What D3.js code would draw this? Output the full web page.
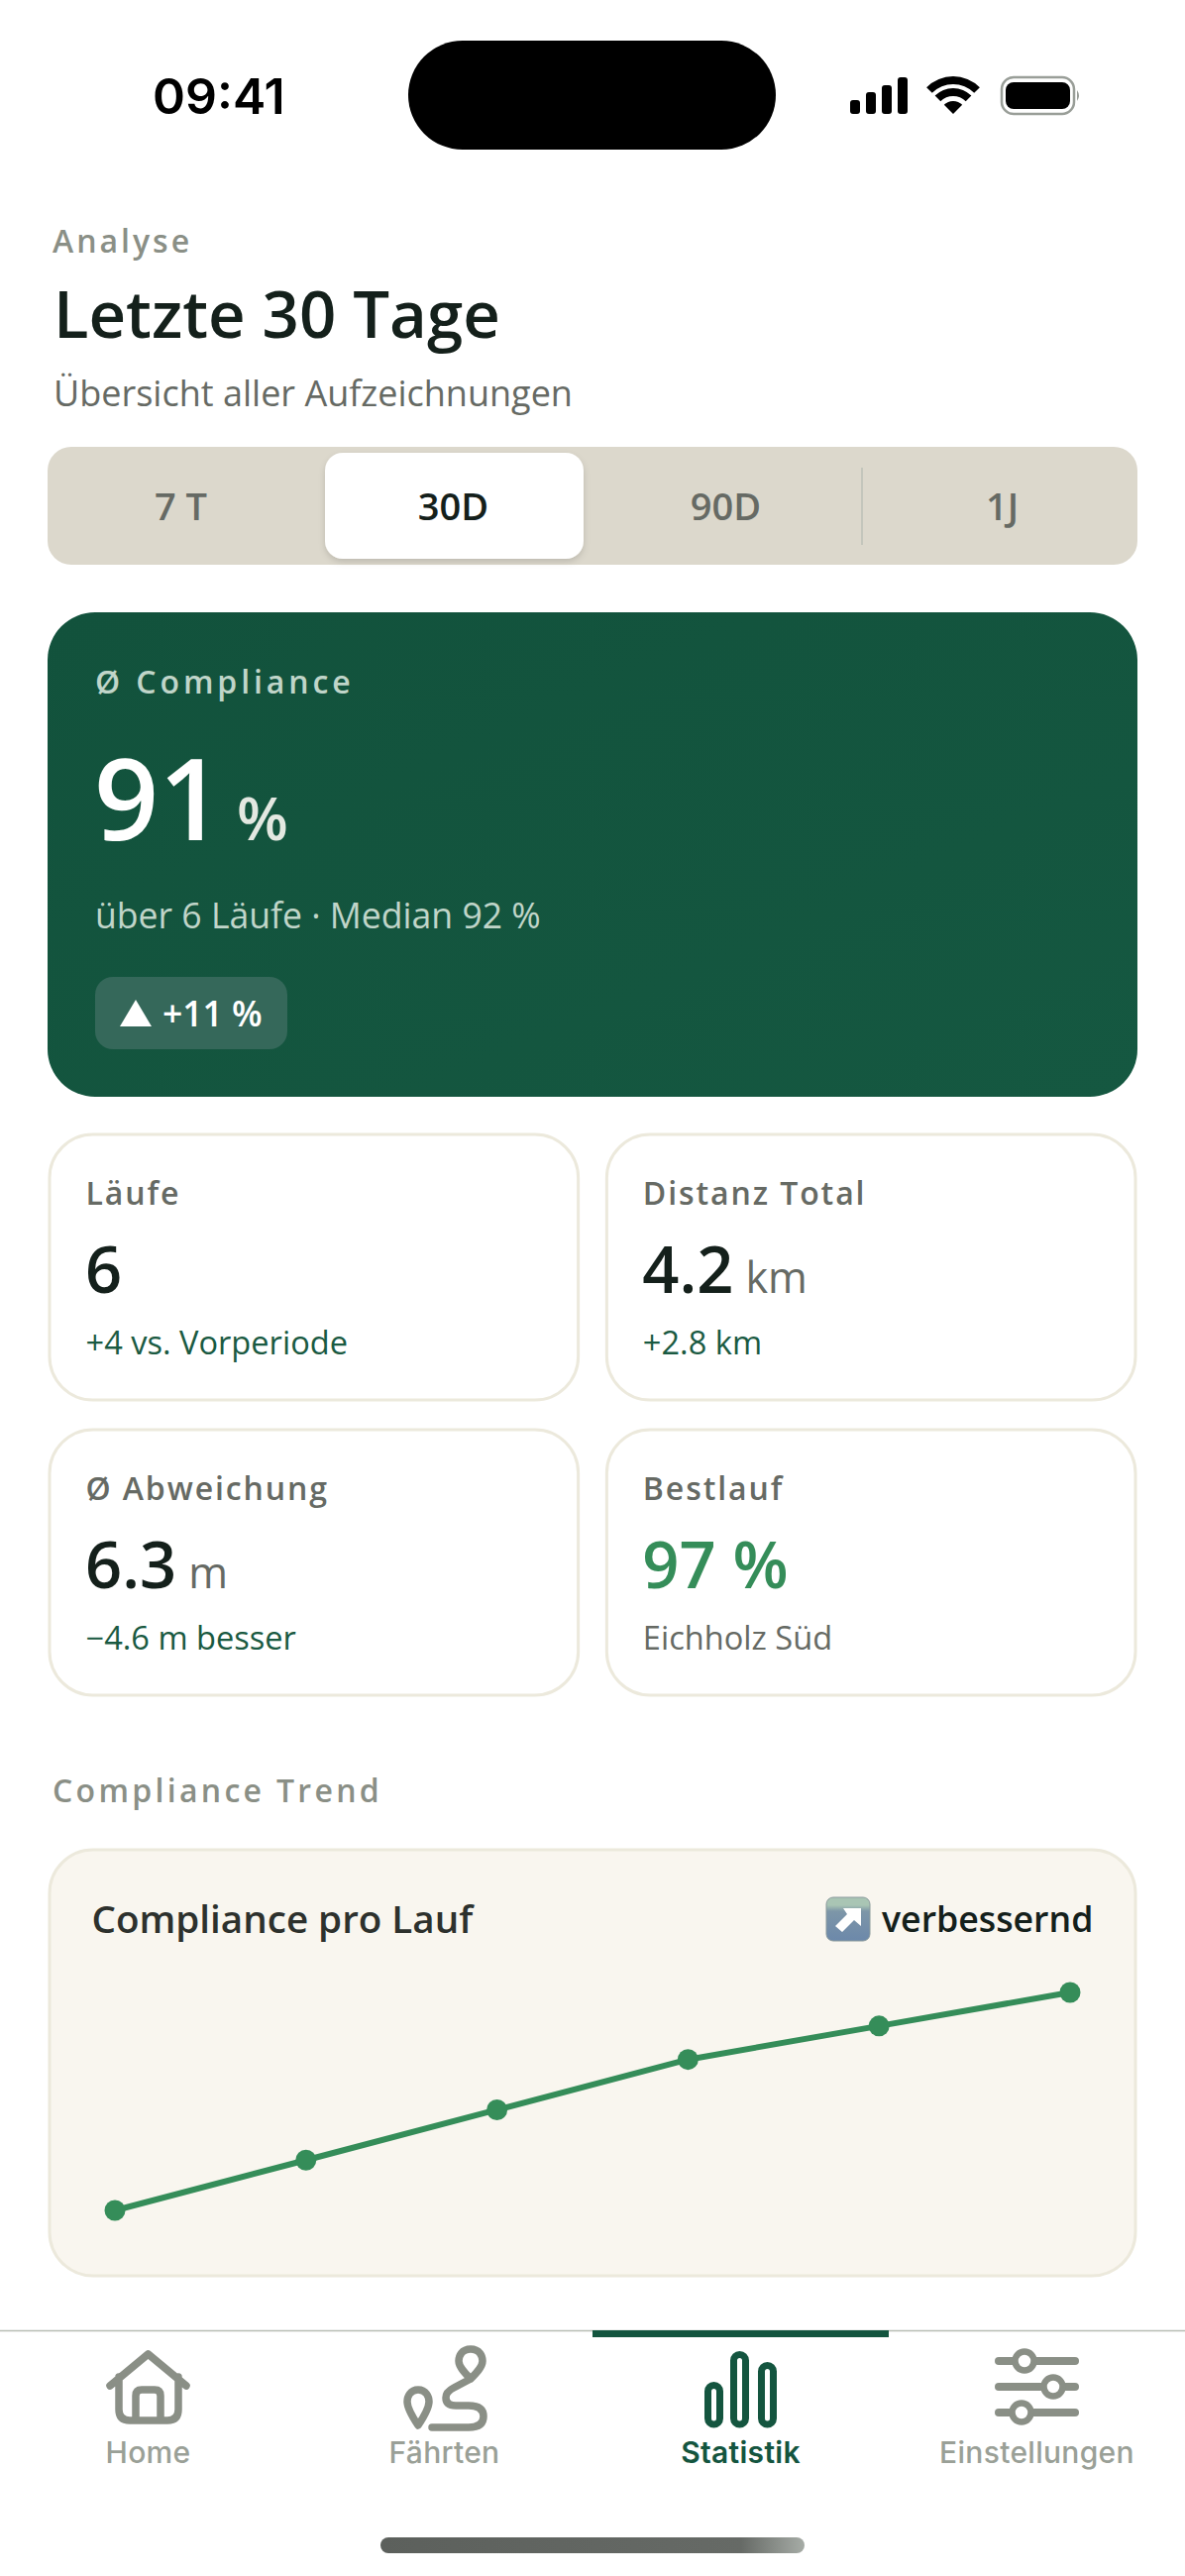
<!DOCTYPE html>
<html lang="de">
<head>
<meta charset="utf-8">
<title>Letzte 30 Tage</title>
<script src="https://cdn.jsdelivr.net/npm/d3@7"></script>
<style>
  body { margin: 0; background: #fff; }
  svg { display: block; font-family: "Open Sans", sans-serif; }
  .nav-label { font-family: Inter, sans-serif; }
</style>
</head>
<body>
<svg id="screen" width="1196" height="2600"></svg>
<script>
const periods = ['7 T', '30D', '90D', '1J'];
const activePeriod = '30D';

const kpiLabels = ['Läufe', 'Distanz Total', 'Ø Abweichung', 'Bestlauf'];
const kpiValues = ['6', '4.2', '6.3', '97 %'];
const kpiUnits = ['', 'km', 'm', ''];
const kpiNotes = ['+4 vs. Vorperiode', '+2.8 km', '−4.6 m besser', 'Eichholz Süd'];

const runs = ['Lauf 1', 'Lauf 2', 'Lauf 3', 'Lauf 4', 'Lauf 5', 'Lauf 6'];
const compliance = [84, 87, 90, 93, 95, 97];

const navLabels = ['Home', 'Fährten', 'Statistik', 'Einstellungen'];
const activeNav = 'Statistik';

const GREEN_DARK = '#14553f';
const GREEN = '#358d59';
const INK = '#14201b';
const GREY = '#666a64';
const MUTED = '#8a8f86';
const BORDER = '#ece9dc';

const svg = d3.select('#screen');
const defs = svg.append('defs');

const addGradient = (id, x2, y2, stops) => {
  const g = defs.append('linearGradient').attr('id', id)
    .attr('x1', 0).attr('y1', 0).attr('x2', x2).attr('y2', y2);
  stops.forEach(([offset, color]) => g.append('stop').attr('offset', offset).attr('stop-color', color));
};
addGradient('heroFill', 1, 1, [[0, '#12523c'], [1, '#155841']]);
addGradient('emojiFill', 0, 1, [[0, '#a9c5b4'], [0.18, '#a9c5b4'], [0.32, '#7d96a8'], [1, '#6c88aa']]);
addGradient('homeBar', 1, 0, [[0, '#5c605c'], [0.85, '#666a66'], [1, '#a6aca6']]);

const shadow = defs.append('filter').attr('id', 'tabShadow')
  .attr('x', '-10%').attr('y', '-10%').attr('width', '120%').attr('height', '125%');
shadow.append('feDropShadow').attr('dx', 0).attr('dy', 3).attr('stdDeviation', 3)
  .attr('flood-color', '#000').attr('flood-opacity', 0.14);

const label = (parent, x, y, text, size, weight, fill, spacing = 0) => parent.append('text')
  .attr('x', x).attr('y', y)
  .attr('font-size', size).attr('font-weight', weight).attr('fill', fill)
  .attr('letter-spacing', spacing)
  .text(text);

// status bar
svg.append('rect').attr('x', 412).attr('y', 41).attr('width', 371).attr('height', 110)
  .attr('rx', 55).attr('fill', '#000');
label(svg, 154, 115, '09:41', 50, 600, '#000').attr('font-family', 'Inter, sans-serif');

const signalBars = [14, 22, 29, 37];
svg.append('g').selectAll('rect').data(signalBars).join('rect')
  .attr('x', (d, i) => 858 + i * 16).attr('y', d => 115 - d)
  .attr('width', 10).attr('height', d => d).attr('rx', 3).attr('fill', '#000');

const wifi = svg.append('g').attr('transform', 'translate(962,115)');
[[0, 13], [18, 26], [30, 38]].forEach(([inner, outer]) => {
  wifi.append('path').attr('fill', '#000').attr('d', d3.arc()({
    innerRadius: inner, outerRadius: outer, startAngle: -Math.PI / 4, endAngle: Math.PI / 4,
  }));
});

svg.append('rect').attr('x', 1011).attr('y', 78).attr('width', 73).attr('height', 37)
  .attr('rx', 12).attr('fill', 'none').attr('stroke', '#999e98').attr('stroke-width', 2.5);
svg.append('rect').attr('x', 1015).attr('y', 83).attr('width', 65).attr('height', 27)
  .attr('rx', 8).attr('fill', '#000');
svg.append('path').attr('d', 'M1087 91 Q1091 96.5 1087 102 Z').attr('fill', '#999e98');

// header
label(svg, 53, 255, 'Analyse', 32, 600, MUTED, 3);
label(svg, 54, 341, 'Letzte 30 Tage', 65.3, 600, INK);
label(svg, 54, 410, 'Übersicht aller Aufzeichnungen', 36, 400, GREY);

// period switch
svg.append('rect').attr('x', 48).attr('y', 451).attr('width', 1100).attr('height', 119)
  .attr('rx', 24).attr('fill', '#dcd8cc');
const periodX = d3.scaleBand().domain(periods).range([46, 1146]);
svg.append('rect')
  .attr('x', periodX(activePeriod) + periodX.bandwidth() / 2 - 130.5).attr('y', 457)
  .attr('width', 261).attr('height', 107).attr('rx', 18)
  .attr('fill', '#fff').attr('filter', 'url(#tabShadow)');
svg.append('line').attr('x1', 870).attr('x2', 870).attr('y1', 472).attr('y2', 550)
  .attr('stroke', '#c4c6bc').attr('stroke-width', 2);
svg.append('g').selectAll('text').data(periods).join('text')
  .attr('x', d => periodX(d) + periodX.bandwidth() / 2 + (d === '1J' ? 3 : 0) - (d === '1J' ? 0 : 1))
  .attr('y', 525).attr('text-anchor', 'middle')
  .attr('font-size', 38).attr('font-weight', 600)
  .attr('fill', d => (d === activePeriod ? INK : GREY))
  .text(d => d);

// hero card
svg.append('rect').attr('x', 48).attr('y', 618).attr('width', 1100).attr('height', 489)
  .attr('rx', 48).attr('fill', 'url(#heroFill)');
label(svg, 96, 699.5, 'Ø Compliance', 32, 600, '#c0d5c9', 3.9);
label(svg, 95, 848, '91', 114, 600, '#fff');
label(svg, 239, 848, '%', 60, 600, '#e3e8e1');
label(svg, 96, 937, 'über 6 Läufe · Median 92 %', 35.6, 400, '#c0d5c9');
svg.append('rect').attr('x', 96).attr('y', 986).attr('width', 194).attr('height', 73)
  .attr('rx', 18).attr('fill', '#35685a');
svg.append('path').attr('d', 'M137 1009 L153 1036 L121 1036 Z').attr('fill', '#fff');
label(svg, 164, 1036, '+11 %', 35.5, 600, '#fff');

// kpi cards
const kpiX = d3.scaleBand().domain([0, 1]).range([50, 1146]).paddingInner(0.0511);
const kpiY = d3.scaleBand().domain([0, 1]).range([1145, 1711]).paddingInner(0.1);
kpiLabels.forEach((name, i) => {
  const card = svg.append('g')
    .attr('transform', `translate(${kpiX(i % 2)},${kpiY(Math.floor(i / 2))})`);
  card.append('rect').attr('width', kpiX.bandwidth()).attr('height', kpiY.bandwidth())
    .attr('rx', 44).attr('fill', '#fff').attr('stroke', BORDER).attr('stroke-width', 3);
  label(card, 36.5, 71, name, 32, 600, GREY, 1.9);
  const isBest = name === 'Bestlauf';
  const value = label(card, 36, 160, kpiValues[i], 65, 600, isBest ? GREEN : INK);
  if (kpiUnits[i]) {
    const valueWidth = value.node().getComputedTextLength();
    label(card, 36 + valueWidth + 12, 160, kpiUnits[i], 43, 500, GREY);
  }
  label(card, 36.5, 222, kpiNotes[i], 32.6, 400, isBest ? GREY : '#1a5a42');
});

// trend
label(svg, 53, 1819, 'Compliance Trend', 32, 600, MUTED, 3.3);
svg.append('rect').attr('x', 50).attr('y', 1867).attr('width', 1096).attr('height', 430)
  .attr('rx', 44).attr('fill', '#f9f6ef').attr('stroke', BORDER).attr('stroke-width', 3);
label(svg, 92.5, 1950.5, 'Compliance pro Lauf', 38.6, 600, '#2d312d');

const emoji = svg.append('g').attr('transform', 'translate(834,1915)');
emoji.append('rect').attr('width', 44).attr('height', 44).attr('rx', 7)
  .attr('fill', 'url(#emojiFill)').attr('stroke', '#8a9a9c').attr('stroke-width', 1);
emoji.append('path').attr('fill', '#fff')
  .attr('d', 'M17 11 L35 11 L35 29 L28 23 L16 35 L9 29 L21 17 Z');
label(svg, 890, 1949.5, 'verbessernd', 35.7, 600, INK);

const chart = svg.append('g').attr('transform', 'translate(116,2011)');
const chartX = d3.scalePoint().domain(runs).range([0, 964]);
const chartY = d3.scaleLinear().domain([84, 97]).range([220, 0]);
const trendLine = d3.line()
  .x((d, i) => chartX(runs[i]))
  .y(d => chartY(d));
chart.append('path').datum(compliance)
  .attr('d', trendLine).attr('fill', 'none')
  .attr('stroke', GREEN).attr('stroke-width', 6).attr('stroke-linejoin', 'round');
chart.append('g').selectAll('circle').data(compliance).join('circle')
  .attr('cx', (d, i) => chartX(runs[i])).attr('cy', d => chartY(d))
  .attr('r', 10.5).attr('fill', GREEN);

// tab bar
svg.append('line').attr('x1', 0).attr('x2', 1196).attr('y1', 2352.5).attr('y2', 2352.5)
  .attr('stroke', '#b8bdb4').attr('stroke-width', 1.5);
const navX = d3.scaleBand().domain(navLabels).range([0, 1196]);
svg.append('rect').attr('x', navX(activeNav)).attr('y', 2352)
  .attr('width', navX.bandwidth()).attr('height', 7).attr('fill', GREEN_DARK);
svg.append('g').selectAll('text').data(navLabels).join('text')
  .attr('class', 'nav-label')
  .attr('x', d => navX(d) + navX.bandwidth() / 2).attr('y', 2486)
  .attr('text-anchor', 'middle').attr('font-size', 30)
  .attr('letter-spacing', 0.3)
  .attr('font-weight', d => (d === activeNav ? 600 : 500))
  .attr('fill', d => (d === activeNav ? GREEN_DARK : '#9aa097'))
  .text(d => d);

const iconStyle = (sel, color, width) => sel
  .attr('fill', 'none').attr('stroke', color).attr('stroke-width', width)
  .attr('stroke-linecap', 'round').attr('stroke-linejoin', 'round');

iconStyle(svg.append('path'), MUTED, 7.5)
  .attr('d', 'M111 2408 L149.5 2376 L188 2408 M120 2399 V2432 Q120 2443 131 2443 H169 Q180 2443 180 2432 V2399 M137 2443 V2418 Q137 2412 143 2412 H156 Q162 2412 162 2418 V2443');

iconStyle(svg.append('path'), MUTED, 7.5)
  .attr('d', 'M475 2371 C466 2371 463 2378 463 2383 C463 2389 470 2396 475 2401 C480 2396 487 2389 487 2383 C487 2378 484 2371 475 2371 Z M422 2412 C414 2412 411 2419 411 2424 C411 2431 418 2442 422 2448 C426 2442 433 2431 433 2424 C433 2419 430 2412 422 2412 Z M475 2401 L458 2410 Q450 2414 450 2420 Q450 2428 460 2428 H473 Q488 2428 488 2439 Q488 2450 473 2450 H436');

iconStyle(svg.append('g'), GREEN_DARK, 7).selectAll('rect')
  .data([[714.5, 2407.5, 39.5], [740.5, 2376.5, 70.5], [768.5, 2387.5, 59.5]]).join('rect')
  .attr('x', d => d[0]).attr('y', d => d[1]).attr('width', 12).attr('height', d => d[2]).attr('rx', 6);

[[2383, 1034], [2409, 1063], [2435, 1031]].forEach(([y, knob]) => {
  iconStyle(svg.append('line'), MUTED, 8)
    .attr('x1', 1008).attr('x2', 1085).attr('y1', y).attr('y2', y);
  svg.append('circle').attr('cx', knob).attr('cy', y).attr('r', 9.5)
    .attr('fill', '#fff').attr('stroke', MUTED).attr('stroke-width', 6.5);
});

svg.append('rect').attr('x', 384).attr('y', 2561).attr('width', 428).attr('height', 16)
  .attr('rx', 8).attr('fill', 'url(#homeBar)');
</script>
</body>
</html>
